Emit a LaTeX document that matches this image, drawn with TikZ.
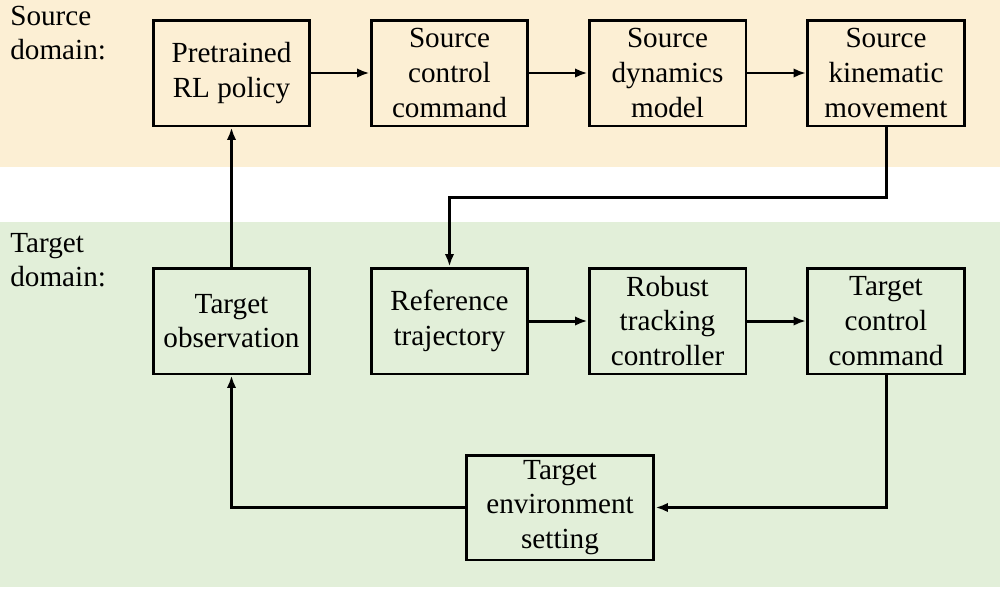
\documentclass[tikz,border=0pt]{standalone}
\usepackage{fontspec}
\setmainfont{Liberation Serif}
\usetikzlibrary{arrows.meta}
\definecolor{srcbg}{HTML}{FCEFD4}
\definecolor{tgtbg}{HTML}{E2EFD9}
\tikzset{
  blk/.style={draw=black, line width=1.7pt, minimum width=3.14cm, minimum height=2.12cm, align=center, inner sep=0pt, font=\fontsize{16.6}{19.8}\selectfont},
  arr/.style={line width=1.7pt, -{Latex[length=0.25cm,width=0.19cm]}},
  lbl/.style={align=left, inner sep=0pt, anchor=north west, font=\fontsize{16.6}{19.3}\selectfont}
}
\begin{document}
\begin{tikzpicture}[x=0.02cm,y=-0.02cm]
\useasboundingbox (0,0) rectangle (1000,589);
\fill[srcbg] (0,0) rectangle (1000,167);
\fill[tgtbg] (0,222) rectangle (1000,587);
\node[lbl] (srclbl) at (10,6) {Source\\domain:};
\node[lbl] (tgtlbl) at (10,233) {Target\\domain:};
\node[blk] (pre) at (231.5,73) {Pretrained\\RL policy};
\node[blk] (scc) at (449.5,73) {Source\\control\\command};
\node[blk] (sdm) at (667.5,73) {Source\\dynamics\\model};
\node[blk] (skm) at (886,73) {Source\\kinematic\\movement};
\node[blk] (tob) at (231.5,321) {Target\\observation};
\node[blk] (ref) at (449.5,321) {Reference\\trajectory};
\node[blk] (rtc) at (667.5,321) {Robust\\tracking\\controller};
\node[blk] (tcc) at (886,321) {Target\\control\\command};
\node[blk, minimum width=3.76cm, minimum height=2.1cm] (env) at (560,507.5) {Target\\environment\\setting};
\coordinate (k1) at (450,197);
\draw[arr] (pre) -- (scc);
\draw[arr] (scc) -- (sdm);
\draw[arr] (sdm) -- (skm);
\draw[arr] (skm.south) -- (skm.south |- k1) -| (ref.north);
\draw[arr] (ref) -- (rtc);
\draw[arr] (rtc) -- (tcc);
\draw[arr] (tcc.south) |- (env.east);
\draw[arr] (env.west) -| (tob.south);
\draw[arr] (tob.north) -- (pre.south);
\end{tikzpicture}
\end{document}
